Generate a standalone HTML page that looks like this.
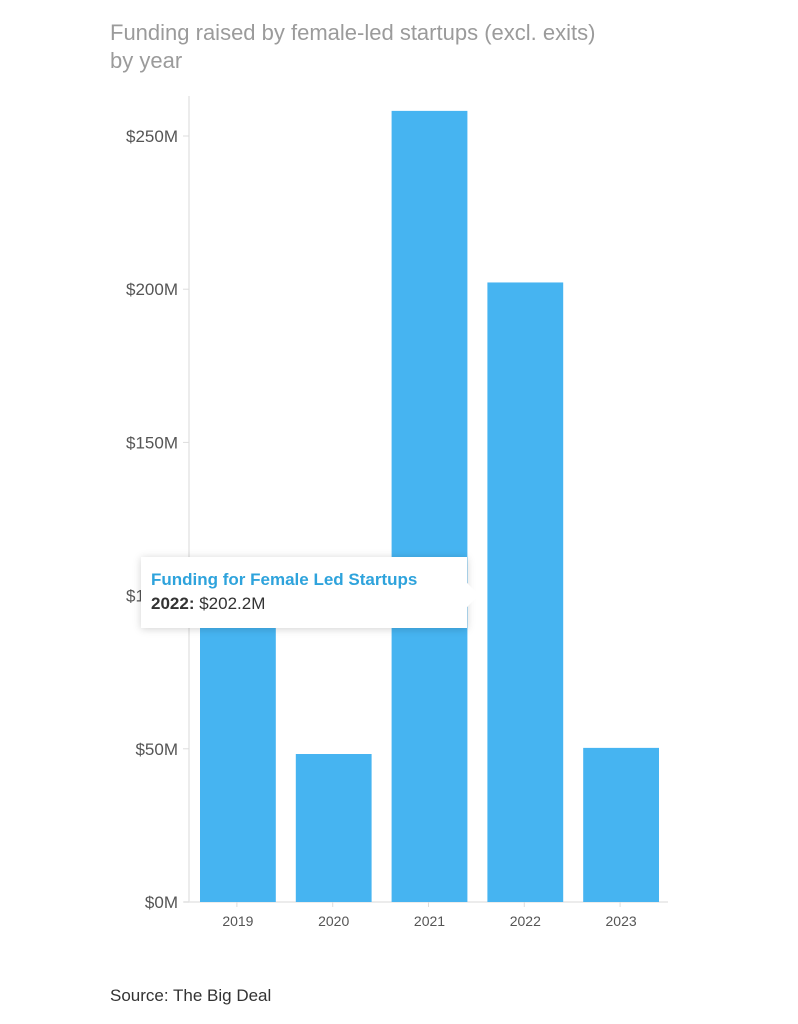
<!DOCTYPE html>
<html><head><meta charset="utf-8"><style>
body{margin:0;background:#fff;width:798px;height:1024px;overflow:hidden;font-family:"Liberation Sans",sans-serif;position:relative}
.sub{position:absolute;left:110px;top:19px;font-size:22px;line-height:28px;color:#9b9b9b}
.src{position:absolute;left:110px;top:986px;font-size:17px;color:#333}
.tip{position:absolute;left:141px;top:557px;width:326px;height:71px;background:#fff;box-shadow:0 1px 8px rgba(0,0,0,0.18);box-sizing:border-box;padding:11px 0 0 10px}
.tip:after{content:"";position:absolute;right:-12px;top:26px;border-left:12px solid #fff;border-top:12px solid transparent;border-bottom:12px solid transparent}
.t1{color:#2ea3dc;font-weight:bold;font-size:17px;line-height:24px}
.t2{color:#333;font-size:17px;line-height:24px}
</style></head><body>
<div class="sub">Funding raised by female-led startups (excl. exits)<br>by year</div>
<svg id="c" width="798" height="1024" style="position:absolute;left:0;top:0"></svg>
<div class="tip"><div class="t1">Funding for Female Led Startups</div><div class="t2"><b>2022:</b> $202.2M</div></div>
<div class="src">Source: The Big Deal</div>
<script>
const categories=["2019","2020","2021","2022","2023"];
const values=[95,48.3,258.2,202.2,50.3];
const ticks=[0,50,100,150,200,250];
const tickLabels=["$0M","$50M","$100M","$150M","$200M","$250M"];
const NS="http://www.w3.org/2000/svg";
const svg=document.getElementById('c');
const x0=189,x1=668,y0=902,pxPer=(902-136)/250;
const y=v=>y0-v*pxPer;
const band=(x1-x0)/categories.length;
const bx=i=>x0+i*band;
function mk(t,a){const e=document.createElementNS(NS,t);for(const k in a)e.setAttribute(k,a[k]);svg.appendChild(e);return e;}
const ax=mk('line',{x1:x0,x2:x0,y1:96,y2:y0,stroke:'#e6e6e6','stroke-width':1.5});


const bl=mk('line',{x1:x0-5,x2:x1,y1:y0,y2:y0,stroke:'#e6e6e6','stroke-width':1.5});


ticks.forEach((t,i)=>{
 const tk=mk('line',{x1:x0-6,x2:x0,y1:y(t),y2:y(t),stroke:'#ddd'});
 
 
 const l=mk('text',{x:x0-11,y:y(t)+6,'text-anchor':'end','font-size':17,fill:'#555'});
 l.textContent=tickLabels[i];
 
 
});
categories.forEach((c,i)=>{
 const r=mk('rect',{x:bx(i)+11,y:y(values[i]),width:band-20,height:y0-y(values[i]),fill:'#46b4f1'});
 
 
 const tk=mk('line',{x1:bx(i)+band/2,x2:bx(i)+band/2,y1:y0,y2:y0+5,stroke:'#ddd'});
 
 
 const l=mk('text',{x:bx(i)+band/2+1,y:926,'text-anchor':'middle','font-size':14,fill:'#555'});
 l.textContent=c;
 
 
});
</script>
</body></html>
